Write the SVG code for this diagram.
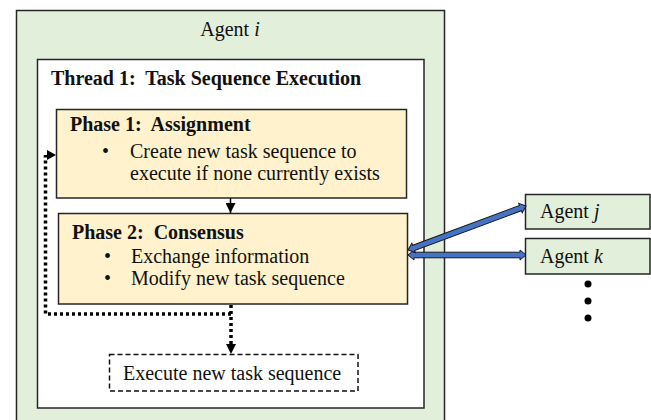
<svg xmlns="http://www.w3.org/2000/svg" width="651" height="420" viewBox="0 0 651 420">
  <defs>
    <style>
      .txt { font-family: "Liberation Serif", "Times New Roman", serif; font-size: 20px; fill: #111; white-space: pre; }
      .b { font-weight: bold; }
      .agent { fill: #E2EFDA; stroke: #262626; stroke-width: 1.5; }
      .thread { fill: #FFFFFF; stroke: #262626; stroke-width: 1.5; }
      .phase { fill: #FFF2CC; stroke: #262626; stroke-width: 1.5; }
      .dotted { fill: none; stroke: #000; stroke-width: 3.5; stroke-dasharray: 3 3; }
      .blockarrow { fill: #4472C4; stroke: #1A1A1A; stroke-width: 1; }
    </style>
    <marker id="head" viewBox="0 0 10 10" refX="10" refY="5" markerWidth="10" markerHeight="10" markerUnits="userSpaceOnUse" orient="auto">
      <path d="M0,0 L10,5 L0,10 Z" fill="#000"/>
    </marker>
  </defs>

  <!-- Agent i container -->
  <g id="agent-i">
    <rect class="agent" x="16.5" y="10.5" width="428" height="420"/>
    <text class="txt" x="230" y="36" text-anchor="middle">Agent <tspan font-style="italic">i</tspan></text>
  </g>

  <!-- Thread 1 -->
  <g id="thread-1">
    <rect class="thread" x="37.5" y="59.5" width="386.5" height="348.5"/>
    <text class="txt b" x="51" y="85" xml:space="preserve">Thread 1:  Task Sequence Execution</text>
  </g>

  <!-- Phase 1 -->
  <g id="phase-1">
    <rect class="phase" x="56.5" y="109.5" width="350" height="88.5"/>
    <text class="txt b" x="70" y="131" xml:space="preserve">Phase 1:  Assignment</text>
    <text class="txt" x="102" y="158">•</text>
    <text class="txt" x="130" y="158">Create new task sequence to</text>
    <text class="txt" x="130" y="180">execute if none currently exists</text>
  </g>

  <!-- Phase 2 -->
  <g id="phase-2">
    <rect class="phase" x="58.5" y="213.5" width="349" height="90.5"/>
    <text class="txt b" x="72" y="239" xml:space="preserve">Phase 2:  Consensus</text>
    <text class="txt" x="104" y="263">•</text>
    <text class="txt" x="131" y="263">Exchange information</text>
    <text class="txt" x="104" y="285">•</text>
    <text class="txt" x="131" y="285">Modify new task sequence</text>
  </g>

  <!-- Execute step -->
  <g id="execute">
    <rect x="109.5" y="354.5" width="248.5" height="36.5" fill="#FFFFFF" stroke="#111" stroke-width="1.5" stroke-dasharray="5 3"/>
    <text class="txt" x="123" y="380">Execute new task sequence</text>
  </g>

  <!-- Other agents -->
  <g id="agent-j">
    <rect class="agent" x="525.5" y="194.5" width="124.5" height="34.5"/>
    <text class="txt" x="540" y="218">Agent <tspan font-style="italic">j</tspan></text>
  </g>
  <g id="agent-k">
    <rect class="agent" x="525.5" y="238.5" width="124.5" height="35.5"/>
    <text class="txt" x="540" y="263">Agent <tspan font-style="italic">k</tspan></text>
  </g>
  <g id="more-agents" fill="#000">
    <circle cx="588" cy="284" r="3.5"/>
    <circle cx="588" cy="301" r="3.5"/>
    <circle cx="588" cy="318" r="3.5"/>
  </g>

  <!-- Connectors -->
  <g id="connectors">
    <!-- Phase 1 to Phase 2 -->
    <line x1="230.5" y1="198" x2="230.5" y2="213" stroke="#000" stroke-width="1.5" marker-end="url(#head)"/>
    <!-- loop back and exit to execution -->
    <path class="dotted" d="M231,305 V352"/>
    <path d="M226,344 L236,344 L231,354 Z" fill="#000"/>
    <path class="dotted" d="M231,314 H45.5 V155"/>
    <path d="M47,150 L56,155 L47,160 Z" fill="#000"/>
    <!-- exchange with other agents -->
    <path class="blockarrow" transform="translate(408,255)" d="M0,0 L6,-5 L6,-2.8 L112,-2.8 L112,-5 L118,0 L112,5 L112,2.8 L6,2.8 L6,5 Z"/>
    <path class="blockarrow" transform="translate(408,250) rotate(-20.45)" d="M0,0 L6,-5 L6,-2.8 L120,-2.8 L120,-5 L126,0 L120,5 L120,2.8 L6,2.8 L6,5 Z"/>
  </g>
</svg>
